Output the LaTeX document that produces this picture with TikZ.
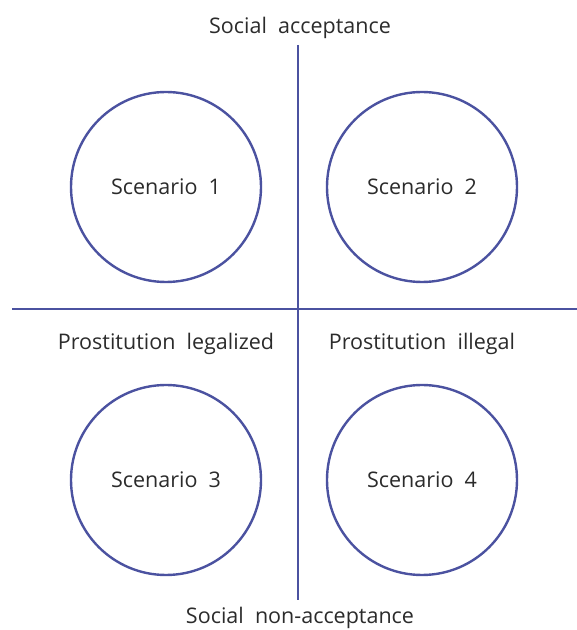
\documentclass[tikz,border=0pt]{standalone}
\usepackage{fontspec}
\setmainfont{Open Sans}
\usepackage{tikz}
\usetikzlibrary{positioning}
\definecolor{axisblue}{HTML}{4B52A0}
\definecolor{txtgray}{HTML}{2B2B2B}
\tikzset{
  scen/.style={circle, draw=axisblue, line width=2.4pt, minimum size=190pt,
    inner sep=0pt, text=txtgray, font=\fontsize{21.5}{24}\selectfont},
  axislbl/.style={text=txtgray, font=\fontsize{21.5}{24}\selectfont},
  axisline/.style={draw=axisblue, line width=2.4pt}
}
\begin{document}
\begin{tikzpicture}[x=1pt,y=1pt]
  \useasboundingbox (0,0) rectangle (577,630);
  % axes
  \coordinate (vtop) at (298,585);
  \coordinate (vbot) at (298,30);
  \coordinate (hleft) at (12,321);
  \coordinate (hright) at (577,321);
  \draw[axisline] (vtop) -- (vbot);
  \draw[axisline] (hleft) -- (hright);
  % scenarios
  \node[scen] (s1) at (166,443) {Scenario\ \ 1};
  \node[scen] (s2) at (422,443) {Scenario\ \ 2};
  \node[scen] (s3) at (166,150) {Scenario\ \ 3};
  \node[scen] (s4) at (422,150) {Scenario\ \ 4};
  % labels
  \node[axislbl] (acc) at (300,602) {Social\ \ acceptance};
  \node[axislbl, inner sep=0pt, anchor=base] (nonacc) at (300,6.5) {Social\ \ non-acceptance};
  \node[axislbl] (legal) at (166,286) {Prostitution\ \ legalized};
  \node[axislbl] (illegal) at (422,286) {Prostitution\ \ illegal};
\end{tikzpicture}
\end{document}
